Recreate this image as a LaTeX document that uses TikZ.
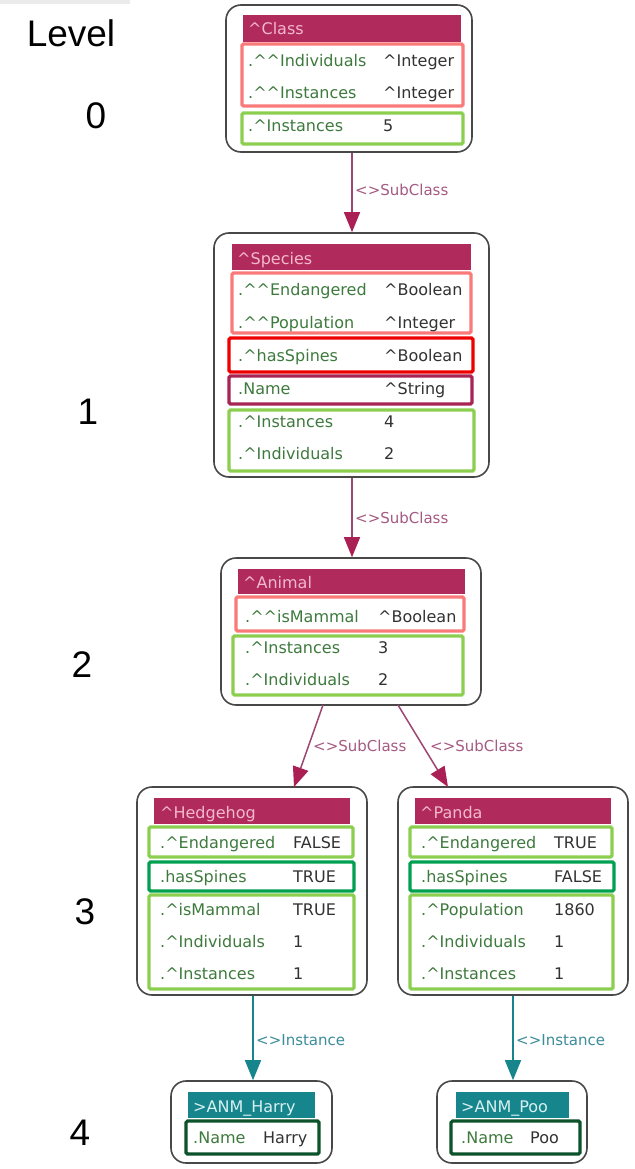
\documentclass[tikz,border=0pt]{standalone}
\usepackage{fontspec}
\setmainfont{DejaVu Sans}
\newfontfamily\lvlfont{Liberation Sans}
\usetikzlibrary{arrows.meta,fit}
\definecolor{hdrmag}{RGB}{176,42,92}
\definecolor{salmon}{RGB}{250,122,122}
\definecolor{redf}{RGB}{238,0,0}
\definecolor{magf}{RGB}{168,36,84}
\definecolor{lgreen}{RGB}{140,206,80}
\definecolor{dgreen}{RGB}{0,160,80}
\definecolor{vdgreen}{RGB}{12,82,42}
\definecolor{tealh}{RGB}{22,134,140}
\definecolor{arrmag}{RGB}{155,70,115}
\definecolor{headmag}{RGB}{170,32,85}
\definecolor{sublbl}{RGB}{165,90,130}
\definecolor{inslbl}{RGB}{60,140,155}
\definecolor{labgreen}{RGB}{62,122,62}
\definecolor{valgrey}{RGB}{50,50,50}
\definecolor{hdrtxt}{RGB}{242,185,205}
\definecolor{tealtxt}{RGB}{215,240,242}
\definecolor{outerc}{RGB}{72,72,72}
\tikzset{
  outerbox/.style={draw=outerc, line width=1.6pt, rounded corners=15pt, fill=white, inner sep=0pt},
  hdrbox/.style={fill=hdrmag, inner sep=0pt},
  tealbox/.style={fill=tealh, inner sep=0pt},
  framebox/.style={line width=3.2pt, rounded corners=1.5pt, inner sep=0pt},
  rowfont/.style={font=\fontsize{16}{18}\selectfont, inner sep=0pt, anchor=base west},
  lab/.style={rowfont, text=labgreen},
  val/.style={rowfont, text=valgrey},
  hdrt/.style={rowfont, text=hdrtxt},
  tealt/.style={rowfont, text=tealtxt},
  lvl/.style={font=\lvlfont\fontsize{37}{40}\selectfont, inner sep=0pt, text=black},
  subarr/.style={draw=arrmag, line width=1.5pt, -{Triangle[width=16pt,length=20pt,fill=headmag,color=headmag]}},
  insarr/.style={draw=tealh, line width=1.5pt, -{Triangle[width=16pt,length=20pt]}},
  sublab/.style={font=\fontsize{15}{17}\selectfont, text=sublbl, inner sep=0pt, anchor=base west},
  inslab/.style={font=\fontsize{15}{17}\selectfont, text=inslbl, inner sep=0pt, anchor=base west},
}
\newcommand\bx[6]{\node[fit={(#2,#3) (#4,#5)}, #6] (#1) {};}
\newcommand\rw[6]{\node[lab] (#1l) at (#2,#4) {#5};\node[val] (#1v) at (#3,#4) {#6};}
\newcommand\cc{\textasciicircum}
\begin{document}
\begin{tikzpicture}[x=1pt,y=-1pt]
\useasboundingbox[fill=white] (0,0) rectangle (634,1169);
\fill[black!8] (0,0) rectangle (130,4);
% level labels
\node[lvl] (lvltitle) at (71,33) {Level};
\node[lvl] (lvl0) at (96,116) {0};
\node[lvl] (lvl1) at (88,412) {1};
\node[lvl] (lvl2) at (82,665) {2};
\node[lvl] (lvl3) at (85,912) {3};
\node[lvl] (lvl4) at (80,1133) {4};

% ---- Class
\bx{class}{226}{5}{472}{152}{outerbox}
\bx{classh}{243}{15}{461}{42}{hdrbox}
\node[hdrt] (classht) at (248,35) {\cc Class};
\bx{classf1}{242}{44}{463}{106}{framebox, draw=salmon}
\bx{classf2}{242}{113}{463}{144}{framebox, draw=lgreen}
\rw{c1}{248}{383}{67}{.\cc\cc Individuals}{\cc Integer}
\rw{c2}{248}{383}{99}{.\cc\cc Instances}{\cc Integer}
\rw{c3}{248}{383}{132}{.\cc Instances}{5}

% ---- Species
\bx{species}{214}{233}{489}{477}{outerbox}
\bx{speciesh}{232}{244}{471}{270}{hdrbox}
\node[hdrt] (speciesht) at (237,264) {\cc Species};
\bx{speciesf1}{232}{273}{471}{333}{framebox, draw=salmon}
\bx{speciesf2}{229}{338}{473}{372}{framebox, draw=redf}
\bx{speciesf3}{229}{376}{472}{404}{framebox, draw=magf}
\bx{speciesf4}{229}{410}{474}{471}{framebox, draw=lgreen}
\rw{s1}{238}{384}{295}{.\cc\cc Endangered}{\cc Boolean}
\rw{s2}{238}{384}{328}{.\cc\cc Population}{\cc Integer}
\rw{s3}{238}{384}{361}{.\cc hasSpines}{\cc Boolean}
\rw{s4}{238}{384}{394}{.Name}{\cc String}
\rw{s5}{238}{384}{427}{.\cc Instances}{4}
\rw{s6}{238}{384}{459}{.\cc Individuals}{2}

% ---- Animal
\bx{animal}{221}{558}{481}{705}{outerbox}
\bx{animalh}{238}{569}{465}{594}{hdrbox}
\node[hdrt] (animalht) at (243,588) {\cc Animal};
\bx{animalf1}{236}{597}{464}{631}{framebox, draw=salmon}
\bx{animalf2}{233}{636}{463}{695}{framebox, draw=lgreen}
\rw{a1}{245}{378}{622}{.\cc\cc isMammal}{\cc Boolean}
\rw{a2}{245}{378}{653}{.\cc Instances}{3}
\rw{a3}{245}{378}{685}{.\cc Individuals}{2}

% ---- Hedgehog
\bx{hedgehog}{137}{787}{367}{995}{outerbox}
\bx{hedgehogh}{154}{798}{350}{824}{hdrbox}
\node[hdrt] (hedgehoght) at (160,818) {\cc Hedgehog};
\bx{hedgehogf1}{149}{827}{353}{857}{framebox, draw=lgreen}
\bx{hedgehogf2}{149}{862}{354}{891}{framebox, draw=dgreen}
\bx{hedgehogf3}{149}{895}{354}{989}{framebox, draw=lgreen}
\rw{h1}{160}{293}{848}{.\cc Endangered}{FALSE}
\rw{h2}{160}{293}{882}{.hasSpines}{TRUE}
\rw{h3}{160}{293}{915}{.\cc isMammal}{TRUE}
\rw{h4}{160}{293}{947}{.\cc Individuals}{1}
\rw{h5}{160}{293}{979}{.\cc Instances}{1}

% ---- Panda
\bx{panda}{398}{787}{628}{995}{outerbox}
\bx{pandah}{415}{798}{611}{824}{hdrbox}
\node[hdrt] (pandaht) at (420,818) {\cc Panda};
\bx{pandaf1}{410}{827}{612}{857}{framebox, draw=lgreen}
\bx{pandaf2}{410}{862}{614}{891}{framebox, draw=dgreen}
\bx{pandaf3}{410}{895}{613}{989}{framebox, draw=lgreen}
\rw{p1}{421}{554}{848}{.\cc Endangered}{TRUE}
\rw{p2}{421}{554}{882}{.hasSpines}{FALSE}
\rw{p3}{421}{554}{915}{.\cc Population}{1860}
\rw{p4}{421}{554}{947}{.\cc Individuals}{1}
\rw{p5}{421}{554}{979}{.\cc Instances}{1}

% ---- ANM_Harry
\bx{harry}{171}{1081}{332}{1163}{outerbox}
\bx{harryh}{188}{1092}{315}{1118}{tealbox}
\node[tealt] (harryht) at (193,1112) {>ANM\_Harry};
\bx{harryf}{186}{1121}{319}{1154}{framebox, draw=vdgreen}
\rw{hr}{193}{263}{1143}{.Name}{Harry}

% ---- ANM_Poo
\bx{poo}{437}{1081}{587}{1163}{outerbox}
\bx{pooh}{456}{1092}{569}{1118}{tealbox}
\node[tealt] (pooht) at (461,1112) {>ANM\_Poo};
\bx{poof}{451}{1121}{580}{1154}{framebox, draw=vdgreen}
\rw{pr}{461}{530}{1143}{.Name}{Poo}

% ---- connectors
\coordinate (e1x) at (352,0);
\draw[subarr] (class.south -| e1x) -- (species.north -| e1x);
\node[sublab] (e1l) at (355,196) {<>SubClass};

\draw[subarr] (species.south -| e1x) -- (animal.north -| e1x);
\node[sublab] (e2l) at (355,523) {<>SubClass};

\coordinate (e3s) at (323,705);
\coordinate (e3t) at (294,787);
\draw[subarr] (e3s) -- (e3t);
\node[sublab] (e3l) at (313,751) {<>SubClass};

\coordinate (e4s) at (398,705);
\coordinate (e4t) at (448,787);
\draw[subarr] (e4s) -- (e4t);
\node[sublab] (e4l) at (430,751) {<>SubClass};

\coordinate (e5x) at (253,0);
\draw[insarr] (hedgehog.south -| e5x) -- (harry.north -| e5x);
\node[inslab] (e5l) at (256,1045) {<>Instance};

\coordinate (e6x) at (513,0);
\draw[insarr] (panda.south -| e6x) -- (poo.north -| e6x);
\node[inslab] (e6l) at (516,1045) {<>Instance};
\end{tikzpicture}
\end{document}
